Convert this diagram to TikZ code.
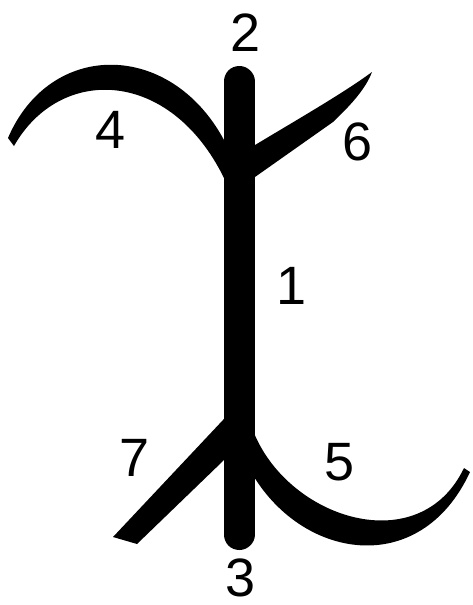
\documentclass[tikz,border=0pt]{standalone}
\usepackage{fontspec}
\setmainfont{Liberation Sans}
\begin{document}
\begin{tikzpicture}[x=1pt,y=-1pt,
  lbl/.style={inner sep=0pt,font=\fontsize{54}{54}\selectfont},
  ink/.style={fill=black,draw=none}]
\useasboundingbox[fill=white] (0,0) rectangle (472,605);
% stroke 4 (left arc)
\fill[ink] (8,138) .. controls (50,40) and (170,40) .. (224,140)
  -- (239,160) -- (239,185) -- (224,178)
  .. controls (170,68) and (60,65) .. (14,146) -- cycle;
% stroke 6 (upper right)
\fill[ink] (239,155) -- (255,145) .. controls (300,118) and (345,92) .. (372,72)
  .. controls (366,88) and (352,104) .. (333,122) -- (255,177) -- (239,188) -- cycle;
% stroke 7 (lower left)
\fill[ink] (239,403) -- (223,420) -- (113,537) -- (137,544) -- (223,461) -- (239,444) -- cycle;
% stroke 5 (lower right arc)
\fill[ink] (239,440) -- (254,433) .. controls (290,520) and (420,560) .. (464,468)
  -- (470,472) .. controls (420,580) and (300,560) .. (250,470) -- (239,470) -- cycle;
% main bar
\draw[line width=31pt,line cap=round] (239,81.5) -- (239,534.5);
% labels
\node[lbl] (n1) at (292,286) {1};
\node[lbl] (n2) at (246,33) {2};
\node[lbl] (n3) at (241,578) {3};
\node[lbl] (n4) at (111,130) {4};
\node[lbl] (n5) at (340,462) {5};
\node[lbl] (n6) at (358,142) {6};
\node[lbl] (n7) at (135,458) {7};
\end{tikzpicture}
\end{document}
